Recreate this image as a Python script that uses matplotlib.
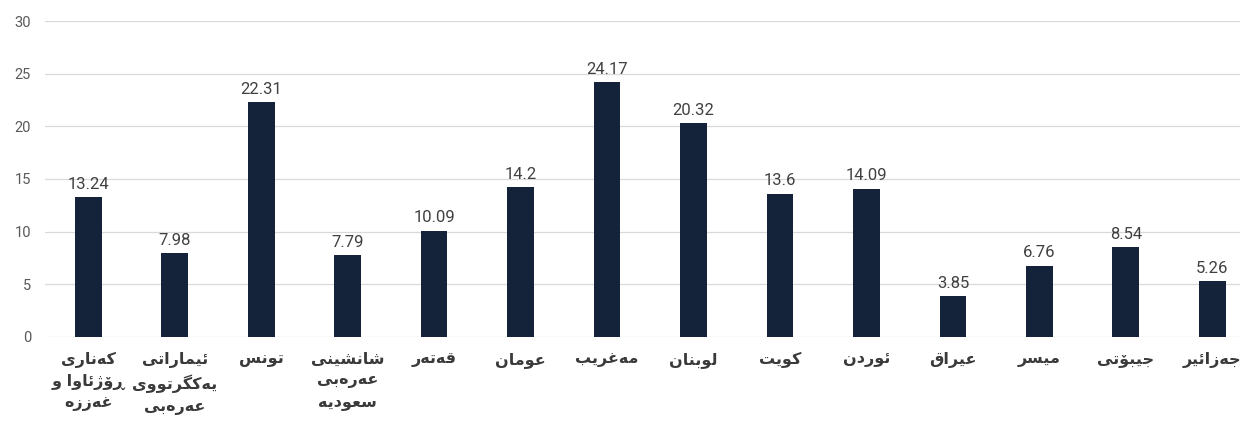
import matplotlib
matplotlib.use("Agg")
import matplotlib.pyplot as plt

# ناوی وڵاتەکان و نرخەکان
countries = ["کەناری\nڕۆژئاوا و\nغەززە", "ئیماراتی\nیەکگرتووی\nعەرەبی", "تونس",
             "شانشینی\nعەرەبی\nسعودیە", "قەتەر", "عومان", "مەغریب", "لوبنان",
             "کوێت", "ئوردن", "عێراق", "میسر", "جیبۆتی", "جەزائیر"]
values = [13.24, 7.98, 22.31, 7.79, 10.09, 14.2, 24.17, 20.32,
          13.6, 14.09, 3.85, 6.76, 8.54, 5.26]
value_labels = ["13.24", "7.98", "22.31", "7.79", "10.09", "14.2", "24.17",
                "20.32", "13.6", "14.09", "3.85", "6.76", "8.54", "5.26"]

# presentation forms: isolated, final, initial, medial
FORMS = {
    "ا": ("\uFE8D", "\uFE8E"), "د": ("\uFEA9", "\uFEAA"), "ر": ("\uFEAD", "\uFEAE"),
    "ز": ("\uFEAF", "\uFEB0"), "ژ": ("\uFB8A", "\uFB8B"), "و": ("\uFEED", "\uFEEE"),
    "ۆ": ("\uFBD9", "\uFBDA"), "ڕ": ("\u0695", "\u0695"), "ە": ("\u06D5", "\uFEEA"),
    "ب": ("\uFE8F", "\uFE90", "\uFE91", "\uFE92"), "ت": ("\uFE95", "\uFE96", "\uFE97", "\uFE98"),
    "ج": ("\uFE9D", "\uFE9E", "\uFE9F", "\uFEA0"), "س": ("\uFEB1", "\uFEB2", "\uFEB3", "\uFEB4"),
    "ش": ("\uFEB5", "\uFEB6", "\uFEB7", "\uFEB8"), "ع": ("\uFEC9", "\uFECA", "\uFECB", "\uFECC"),
    "غ": ("\uFECD", "\uFECE", "\uFECF", "\uFED0"), "ق": ("\uFED5", "\uFED6", "\uFED7", "\uFED8"),
    "ل": ("\uFEDD", "\uFEDE", "\uFEDF", "\uFEE0"), "م": ("\uFEE1", "\uFEE2", "\uFEE3", "\uFEE4"),
    "ن": ("\uFEE5", "\uFEE6", "\uFEE7", "\uFEE8"), "ئ": ("\uFE89", "\uFE8A", "\uFE8B", "\uFE8C"),
    "ی": ("\uFBFC", "\uFBFD", "\uFBFE", "\uFBFF"), "ێ": ("\u06CE", "\uFBFD", "\uFBFE", "\uFBFF"),
    "ک": ("\uFB8E", "\uFB8F", "\uFB90", "\uFB91"), "گ": ("\uFB92", "\uFB93", "\uFB94", "\uFB95"),
}


def shape(line):
    out = []
    for i, ch in enumerate(line):
        if ch not in FORMS:
            out.append(ch)
            continue
        prev = line[i - 1] if i > 0 else ""
        nxt = line[i + 1] if i + 1 < len(line) else ""
        join_prev = prev in FORMS and len(FORMS[prev]) == 4
        join_next = nxt in FORMS and len(FORMS[ch]) == 4
        f = FORMS[ch]
        if join_prev and join_next:
            out.append(f[3])
        elif join_next:
            out.append(f[2])
        elif join_prev:
            out.append(f[1])
        else:
            out.append(f[0])
    return "".join(out)[::-1]


def rtl(text):
    return "\n".join(shape(l) for l in text.split("\n"))


fig, ax = plt.subplots(figsize=(12.48, 4.21), dpi=100)
fig.subplots_adjust(left=0.036, right=0.9936, bottom=0.2, top=0.95)

x = range(len(countries))
bars = ax.bar(x, values, width=0.31, color="#14233a", zorder=3)
for b, lab in zip(bars, value_labels):
    ax.text(b.get_x() + b.get_width() / 2, b.get_height() + 0.5, lab,
            ha="center", va="bottom", fontsize=12, color="#404040",
            family=["Roboto", "DejaVu Sans"], zorder=4)

ax.set_ylim(0, 30)
ax.set_xlim(-0.5, len(countries) - 1 + 0.32)
ax.set_yticks(range(0, 31, 5))
ax.set_yticklabels([str(v) for v in range(0, 31, 5)], family=["Roboto", "DejaVu Sans"])
ax.grid(axis="y", color="#d9d9d9", linewidth=0.9, zorder=0)
for s in ["top", "right", "left", "bottom"]:
    ax.spines[s].set_visible(False)
ax.tick_params(axis="y", length=0, labelsize=10.5, labelcolor="#595959", pad=10)
ax.tick_params(axis="x", length=0, pad=11)
ax.set_xticks(list(x))
ax.set_xticklabels([rtl(c) for c in countries], fontsize=11.5, fontweight="bold",
                   color="#3a3a3a", family="DejaVu Sans", linespacing=1.45, va="top")

plt.savefig("out.png", dpi=100)
